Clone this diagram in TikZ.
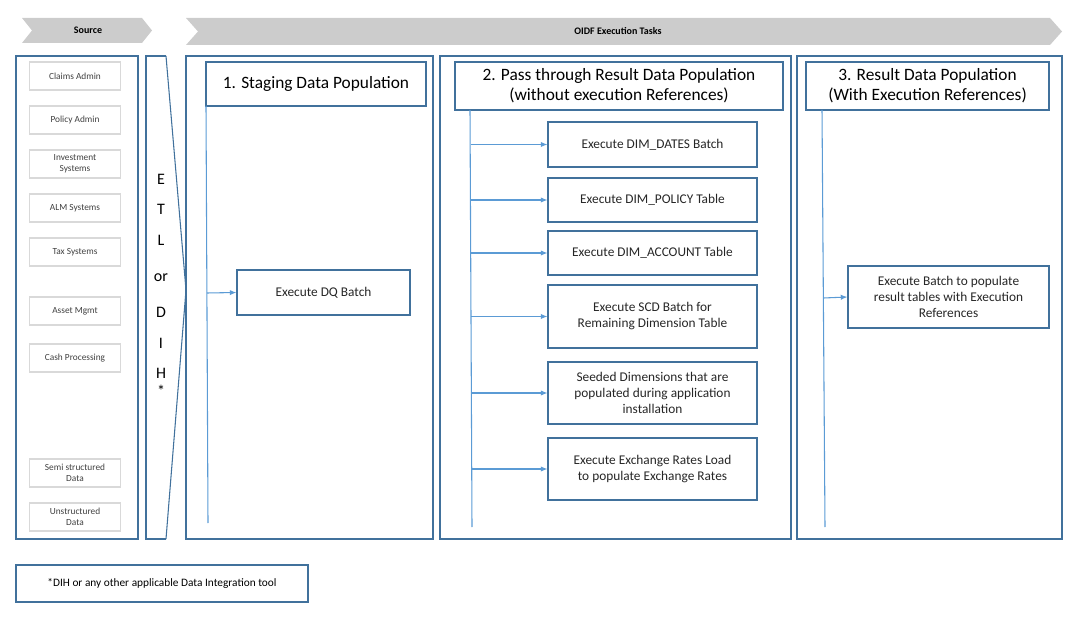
\documentclass[tikz,border=0pt]{standalone}
\usepackage{fontspec}
\setmainfont{Carlito}
\begin{document}
\begin{tikzpicture}[x=0.75pt,y=-0.75pt,
 frame/.style={draw=dkb,line width=0.8pt},
 src/.style={draw=black!15,line width=0.8pt,font=\fontsize{7}{8}\selectfont,text=black!75,align=center},
 task/.style={draw=dkb,line width=0.8pt,font=\fontsize{10}{12}\selectfont,text=black!85,align=center},
 ttl/.style={draw=dkb,line width=0.8pt,font=\fontsize{13}{15}\selectfont,align=center},
 ln/.style={draw=ltb,line width=0.8pt},
 arr/.style={ln,-{Latex[length=5pt,width=4pt]}},
 chev/.style={fill=black!20}]
\usetikzlibrary{arrows.meta}
\definecolor{dkb}{HTML}{41719C}\definecolor{ltb}{HTML}{5B9BD5}
\useasboundingbox (0,0) rectangle (1081,623);
% chevrons
\fill[chev] (22,18)--(142,18)--(152,30.5)--(142,43)--(22,43)--(32,30.5)--cycle;
\node[font=\fontsize{7.5}{9}\selectfont\bfseries] (csrc) at (88,30.5) {Source};
\fill[chev] (186,18)--(1050,18)--(1062,31.5)--(1050,45)--(186,45)--(198,31.5)--cycle;
\node[font=\fontsize{7.5}{9}\selectfont\bfseries] (coidf) at (618,31.5) {OIDF Execution Tasks};
% source
\node[frame,minimum width=122pt*0.75,minimum height=483pt*0.75] (srcbox) at (77,297.5) {};
\foreach \n/\y/\t in {a/76/Claims Admin,b/120/Policy Admin,c/164/{Investment\\Systems},d/208/ALM Systems,e/252/Tax Systems,f/311/Asset Mgmt,g/358/Cash Processing,h/473/{Semi structured\\Data},i/517/{Unstructured\\Data}}
  \node[src,minimum width=91*0.75pt,minimum height=28*0.75pt,inner sep=0pt] (s\n) at (75,\y) {\t};
% ETL
\draw[frame] (166,56)--(146,56)--(146,539)--(166,539);
\draw[frame] (166,56)--(186,290)--(166,539);
\node[font=\fontsize{12}{23}\selectfont,align=center] (etl) at (161,285) {E\\T\\L\\[4pt]or\\[4pt]D\\I\\H\\[-10pt]*};
% stage
\node[frame,minimum width=247*0.75pt,minimum height=483*0.75pt] (stg) at (309.5,297.5) {};
\node[ttl,minimum width=220*0.75pt,minimum height=44*0.75pt] (stgt) at (316,84) {1. Staging Data Population};
\coordinate (st0) at (206,106); \coordinate (st1) at (208,523);
\draw[ln] (st0)--(st1);
\node[task,minimum width=173*0.75pt,minimum height=45*0.75pt] (dq) at (323.5,292.5) {Execute DQ Batch};
\draw[arr] (207,293)--(dq.west);
% pass
\node[frame,minimum width=351*0.75pt,minimum height=483*0.75pt] (pas) at (615.5,297.5) {};
\node[ttl,minimum width=328*0.75pt,minimum height=48*0.75pt,inner sep=1pt] (past) at (619,86) {2. Pass through Result Data Population\\(without execution References)};
\coordinate (p0) at (470,110); \coordinate (p1) at (472,527);
\draw[ln] (p0)--(p1);
\foreach \n/\y/\h/\t in {p1/144.5/45/Execute DIM\_DATES Batch,p2/200/44/Execute DIM\_POLICY Table,p3/253/44/Execute DIM\_ACCOUNT Table,p4/316.5/63/{Execute SCD Batch for\\Remaining Dimension Table},p5/393/62/{Seeded Dimensions that are\\populated during application\\installation},p6/469/62/{Execute Exchange Rates Load\\to populate Exchange Rates}}{
  \node[task,minimum width=209*0.75pt,minimum height=\h*0.75pt,inner sep=1pt] (\n) at (652.5,\y) {\t};
  \draw[arr] (471,\y)--(\n.west);}
% result
\node[frame,minimum width=265*0.75pt,minimum height=483*0.75pt] (res) at (929.5,297.5) {};
\node[ttl,minimum width=243*0.75pt,minimum height=48*0.75pt,inner sep=1pt] (rest) at (927.5,86) {3. Result Data Population\\(With Execution References)};
\coordinate (r0) at (822,110); \coordinate (r1) at (825,527);
\draw[ln] (r0)--(r1);
\node[task,minimum width=201*0.75pt,minimum height=62*0.75pt,inner sep=1pt] (rb) at (948.5,297) {Execute Batch to populate\\result tables with Execution\\References};
\draw[arr] (823.5,298)--(rb.west);
% footnote
\node[frame,minimum width=292*0.75pt,minimum height=37*0.75pt,font=\fontsize{8.5}{10}\selectfont] (fn) at (162,583.5) {*DIH or any other applicable Data Integration tool};
\end{tikzpicture}
\end{document}
